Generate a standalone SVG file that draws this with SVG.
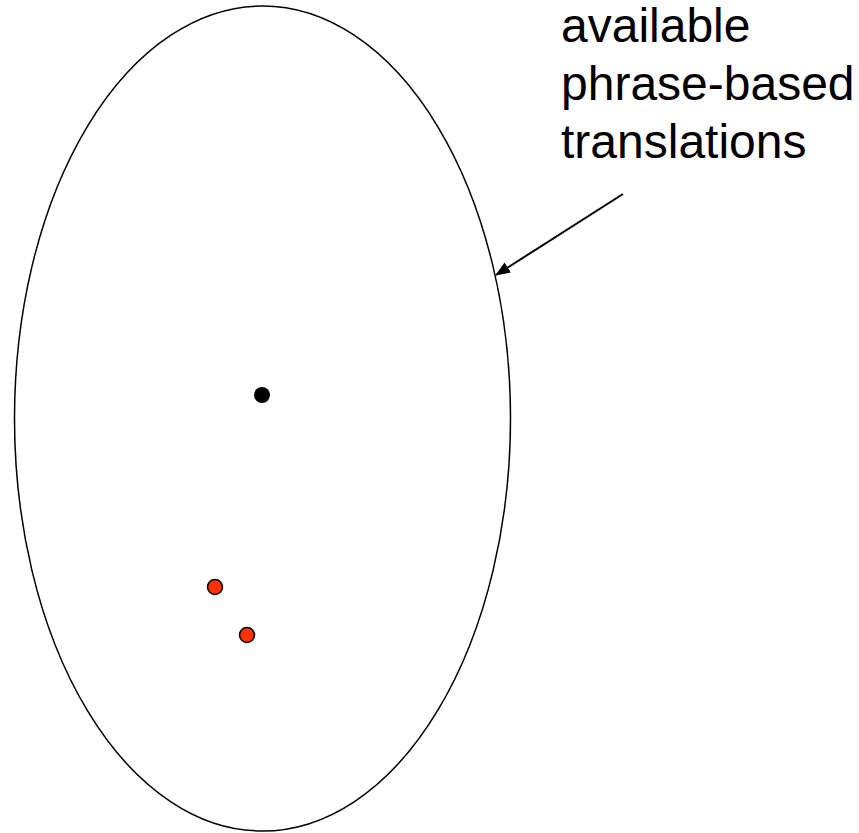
<svg xmlns="http://www.w3.org/2000/svg" width="859" height="833" viewBox="0 0 859 833">
<defs>
<style>
.lbl{font-family:"Liberation Sans",Arial,sans-serif;font-size:48px;fill:#000}
.red{fill:#FF3300;stroke:#000;stroke-width:1.5}
</style>
<marker id="ah" markerWidth="15" markerHeight="12" refX="14" refY="6" orient="auto" markerUnits="userSpaceOnUse" viewBox="0 0 15 12">
<path d="M0,0 L15,6 L0,12 Z" fill="#000"/>
</marker>
</defs>
<rect width="859" height="833" fill="#fff"/>
<g id="set">
<ellipse cx="262.5" cy="418.5" rx="248" ry="412.5" fill="none" stroke="#000" stroke-width="1.5"/>
</g>
<g id="label">
<text class="lbl" x="561" y="42">available</text>
<text class="lbl" x="561" y="100">phrase-based</text>
<text class="lbl" x="561" y="158">translations</text>
</g>
<g id="points">
<circle cx="262" cy="395" r="8" fill="#000"/>
<circle class="red" cx="215" cy="587" r="7.5"/>
<circle class="red" cx="247" cy="635" r="7.5"/>
</g>
<g id="connectors">
<line x1="623" y1="194" x2="496" y2="275" stroke="#000" stroke-width="2" marker-end="url(#ah)"/>
</g>
</svg>
